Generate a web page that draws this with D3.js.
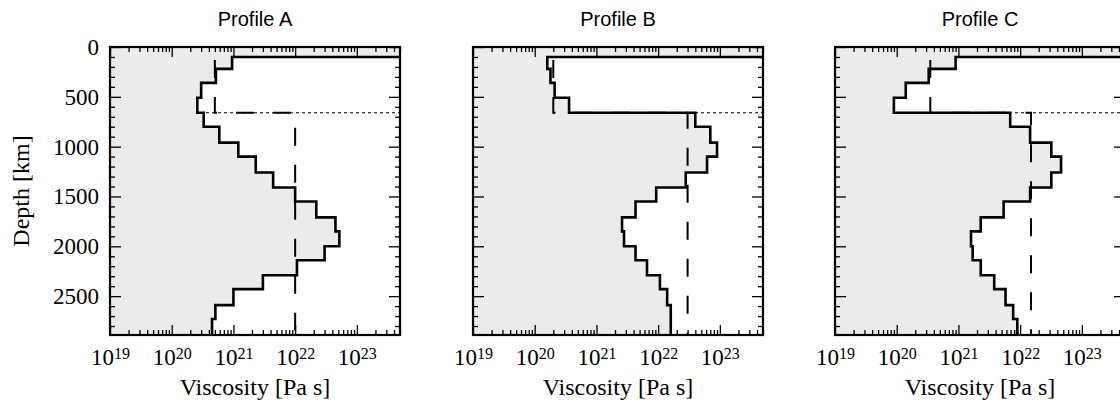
<!DOCTYPE html>
<html>
<head>
<meta charset="utf-8">
<script src="https://d3js.org/d3.v7.min.js"></script>
<style>
  body { margin: 0; background: #fff; }
  svg { display: block; }
  .tick line { stroke: #000; stroke-width: 1.3px; }
</style>
</head>
<body>
<svg width="1120" height="403"></svg>
<script>
// layer boundaries (km) shared by all three profiles
var layerDepths = [0, 100, 220, 360, 510, 660, 800, 960, 1100, 1260, 1410,
                   1550, 1710, 1850, 2000, 2140, 2290, 2430, 2590, 2730, 2890];

// viscosity per layer (Pa s), top layer is the off-scale lithosphere
var profileA = [1e24, 9.5e20, 5.2e20, 3e20, 2.6e20, 3.3e20, 5.9e20, 1.2e21, 2.3e21, 4.4e21,
                1e22, 2.2e22, 4.5e22, 5.2e22, 3e22, 1.07e22, 3e21, 1e21, 5.1e20, 4.5e20];
var profileB = [1e24, 1.6e20, 1.8e20, 2.1e20, 3.6e20, 4e22, 7e22, 9e22, 6.2e22, 2.8e22,
                9.3e21, 4.3e21, 2.6e21, 2.8e21, 4.3e21, 6.6e21, 1.07e22, 1.4e22, 1.6e22, 1.6e22];
var profileC = [1e24, 9e20, 3.3e20, 1.4e20, 9e19, 6.9e21, 1.45e22, 3.2e22, 4.6e22, 3.2e22,
                1.45e22, 5.4e21, 2.3e21, 1.6e21, 1.7e21, 2.3e21, 3.8e21, 5.8e21, 7.7e21, 9e21];

// two-layer reference models: [upper mantle, lower mantle]
var referenceA = [5e20, 1e22];
var referenceB = [2e20, 3e22];
var referenceC = [3.5e20, 1.5e22];

var panelTitles = ["Profile A", "Profile B", "Profile C"];
var depthTicks = [0, 500, 1000, 1500, 2000, 2500];
var decadeTicks = [1e19, 1e20, 1e21, 1e22, 1e23];
var transitionDepth = 660;
var lithosphereBase = 100;

var svg = d3.select("svg"),
    panelLeft = [110, 473, 835],
    panelWidth = 290,
    plotTop = 47,
    plotBottom = 335,
    serif = "'Liberation Serif', 'Times New Roman', serif";

var y = d3.scaleLinear().domain([0, 2890]).range([plotTop, plotBottom]);

var minorDepths = d3.range(0, 2891, 100).filter(function(d) { return d % 500 !== 0; });

var profiles = [profileA, profileB, profileC],
    references = [referenceA, referenceB, referenceC];

function noDomain(sel) { sel.selectAll(".domain").remove(); }

profiles.forEach(function(prof, p) {
  var x0 = panelLeft[p];
  var x = d3.scaleLog().domain([1e19, 5e23]).range([x0, x0 + panelWidth]);
  var minorX = x.ticks().filter(function(d) { return decadeTicks.indexOf(d) < 0; });

  var g = svg.append("g");

  g.append("clipPath").attr("id", "clip" + p)
    .append("rect")
      .attr("x", x0).attr("y", plotTop)
      .attr("width", panelWidth).attr("height", plotBottom - plotTop);

  var plot = g.append("g").attr("clip-path", "url(#clip" + p + ")");

  // step points of the profile
  var pts = [];
  prof.forEach(function(v, i) {
    pts.push({v: v, d: layerDepths[i]});
    pts.push({v: v, d: layerDepths[i + 1]});
  });

  // dotted 660 km line
  plot.append("line")
      .attr("x1", x0).attr("x2", x0 + panelWidth)
      .attr("y1", y(transitionDepth)).attr("y2", y(transitionDepth))
      .attr("stroke", "#000")
      .attr("stroke-width", 1.1)
      .attr("stroke-dasharray", "3,3");

  plot.append("path")
      .datum(pts)
      .attr("fill", "#ebebeb")
      .attr("d", d3.area()
        .y(function(d) { return y(d.d); })
        .x0(x0)
        .x1(function(d) { return x(d.v); }));

  // dashed reference model
  var ref = references[p];
  var refPts = [
    {v: ref[0], d: lithosphereBase}, {v: ref[0], d: transitionDepth},
    {v: ref[1], d: transitionDepth}, {v: ref[1], d: 2890}
  ];
  plot.append("path")
      .datum(refPts)
      .attr("fill", "none")
      .attr("stroke", "#000")
      .attr("stroke-width", 2)
      .attr("stroke-dasharray", "18,19")
      .attr("stroke-dashoffset", 34)
      .attr("d", d3.line()
        .x(function(d) { return x(d.v); })
        .y(function(d) { return y(d.d); }));

  plot.append("path")
      .datum(pts)
      .attr("fill", "none")
      .attr("stroke", "#000")
      .attr("stroke-width", 2.6)
      .attr("d", d3.line()
        .x(function(d) { return x(d.v); })
        .y(function(d) { return y(d.d); }));

  // axes, ticks pointing inward
  g.append("g").attr("transform", "translate(0," + plotBottom + ")")
      .call(d3.axisBottom(x).tickValues(minorX).tickSize(-5).tickFormat(""))
      .call(noDomain);
  g.append("g").attr("transform", "translate(0," + plotTop + ")")
      .call(d3.axisTop(x).tickValues(minorX).tickSize(-5).tickFormat(""))
      .call(noDomain);
  g.append("g").attr("transform", "translate(0," + plotTop + ")")
      .call(d3.axisTop(x).tickValues(decadeTicks).tickSize(-10).tickFormat(""))
      .call(noDomain);

  var bx = g.append("g").attr("transform", "translate(0," + plotBottom + ")")
      .call(d3.axisBottom(x).tickValues(decadeTicks).tickSize(-10).tickPadding(14))
      .call(noDomain);
  bx.selectAll(".tick text").each(function(d) {
    var t = d3.select(this);
    t.text(null)
      .attr("font-family", serif)
      .attr("font-size", 23)
      .attr("fill", "#000");
    t.append("tspan").text("10");
    t.append("tspan").attr("dy", "-0.42em").attr("font-size", 16)
      .text(Math.round(Math.log10(d)));
  });

  g.append("g").attr("transform", "translate(" + x0 + ",0)")
      .call(d3.axisLeft(y).tickValues(minorDepths).tickSize(-5).tickFormat(""))
      .call(noDomain);
  var leftMajor = g.append("g").attr("transform", "translate(" + x0 + ",0)")
      .call(d3.axisLeft(y).tickValues(depthTicks).tickSize(-11).tickPadding(11)
        .tickFormat(p === 0 ? d3.format("d") : ""))
      .call(noDomain);
  leftMajor.selectAll(".tick text")
      .attr("font-family", serif)
      .attr("font-size", 23)
      .attr("fill", "#000");

  g.append("g").attr("transform", "translate(" + (x0 + panelWidth) + ",0)")
      .call(d3.axisRight(y).tickValues(minorDepths).tickSize(-5).tickFormat(""))
      .call(noDomain);
  g.append("g").attr("transform", "translate(" + (x0 + panelWidth) + ",0)")
      .call(d3.axisRight(y).tickValues(depthTicks).tickSize(-11).tickFormat(""))
      .call(noDomain);

  g.append("rect")
      .attr("x", x0).attr("y", plotTop)
      .attr("width", panelWidth).attr("height", plotBottom - plotTop)
      .attr("fill", "none")
      .attr("stroke", "#000")
      .attr("stroke-width", 2.2);

  g.append("text")
      .attr("x", x0 + panelWidth / 2)
      .attr("y", 26)
      .attr("text-anchor", "middle")
      .attr("font-family", "'Liberation Sans', Arial, sans-serif")
      .attr("font-size", 20)
      .text(panelTitles[p]);

  g.append("text")
      .attr("x", x0 + panelWidth / 2)
      .attr("y", 395)
      .attr("text-anchor", "middle")
      .attr("font-family", serif)
      .attr("font-size", 24)
      .text("Viscosity [Pa s]");
});

svg.append("text")
    .attr("transform", "translate(29," + y(1445) + ") rotate(-90)")
    .attr("text-anchor", "middle")
    .attr("font-family", serif)
    .attr("font-size", 24)
    .text("Depth [km]");
</script>
</body>
</html>
